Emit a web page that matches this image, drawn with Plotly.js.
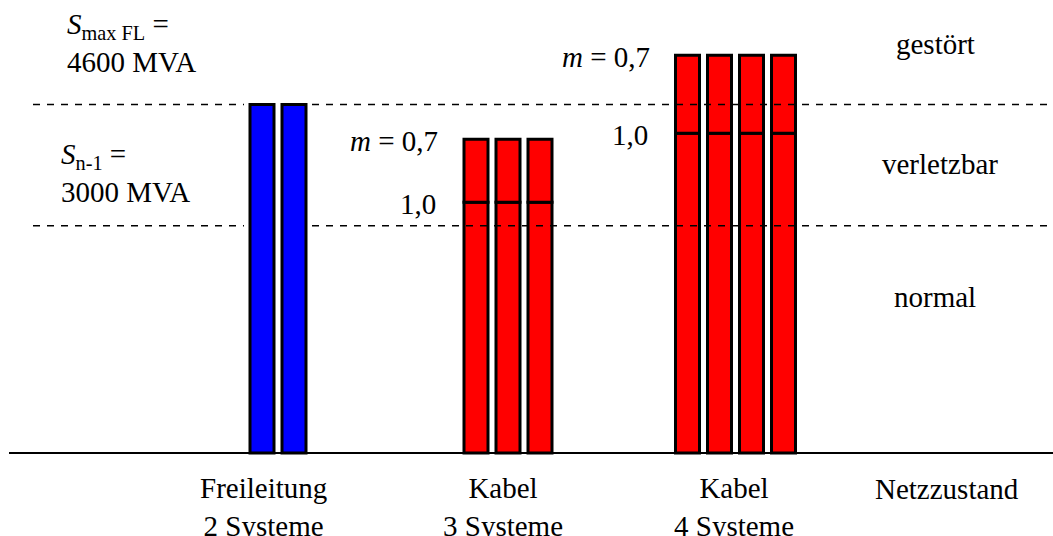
<!DOCTYPE html>
<html>
<head>
<meta charset="utf-8">
<script src="https://cdn.plot.ly/plotly-3.0.1.min.js"></script>
<style>html,body{margin:0;padding:0;background:#fff;}#chart{width:1053px;height:536px;}</style>
</head>
<body>
<div id="chart"></div>
<script>
// ---------- data ----------
const groupLabels = ['Freileitung<br>2 Systeme', 'Kabel<br>3 Systeme', 'Kabel<br>4 Systeme'];
const systemCounts = [2, 3, 4];
const loadM07 = [4600, 4140, 5250];   // top of bar (m = 0,7), MVA
const loadM10 = [null, 3310, 4220];   // m = 1,0 division, MVA
const barColors = ['#0000FF', '#FF0000', '#FF0000'];
const sN1 = 3000;       // S_n-1
const sMaxFL = 4600;    // S_max FL
const zoneLabels = ['gestört', 'verletzbar', 'normal'];
const stateTitle = 'Netzzustand';

// ---------- layout geometry ----------
const W = 1053, H = 536;
const baseY = 453, refY = 104.5;           // pixel rows of 0 and S_max FL
const k = sMaxFL / (baseY - refY);          // MVA per pixel
const yRange = [-(H - baseY) * k, baseY * k];
const groupCenters = [278, 508, 735.5];
const labelCenters = [263, 503, 734];
const pitch = 32, barW = 24;
const FONT = 'Liberation Serif';
const FS = 29;
const py = p => 1 - p / H;              // paper y from pixel row

// ---------- traces ----------
const traces = [];
groupLabels.forEach((g, gi) => {
  const n = systemCounts[gi];
  const xs = [];
  for (let j = 0; j < n; j++) xs.push(groupCenters[gi] + (j - (n - 1) / 2) * pitch);
  const line = {color: '#000', width: 3};
  if (loadM10[gi] === null) {
    traces.push({type: 'bar', x: xs, y: xs.map(() => loadM07[gi]), width: barW,
      marker: {color: barColors[gi], line: line}, hoverinfo: 'skip', showlegend: false});
  } else {
    traces.push({type: 'bar', x: xs, y: xs.map(() => loadM10[gi]), base: 0, width: barW,
      marker: {color: barColors[gi], line: line}, hoverinfo: 'skip', showlegend: false});
    traces.push({type: 'bar', x: xs, y: xs.map(() => loadM07[gi] - loadM10[gi]), base: loadM10[gi], width: barW,
      marker: {color: barColors[gi], line: line}, hoverinfo: 'skip', showlegend: false});
  }
});

// ---------- shapes ----------
const shapes = [];
const dashStyle = {color: '#000', width: 1.5, dash: '7px,7px'};
const blueL = groupCenters[0] - systemCounts[0] * pitch / 2 - 2;
const blueR = groupCenters[0] + systemCounts[0] * pitch / 2 + 2;
[sMaxFL, sN1].forEach(v => {
  shapes.push({type: 'line', xref: 'x', yref: 'y', x0: 33, x1: blueL, y0: v, y1: v, line: dashStyle, layer: 'above'});
  shapes.push({type: 'line', xref: 'x', yref: 'y', x0: blueR, x1: W, y0: v, y1: v, line: dashStyle, layer: 'above'});
});
shapes.push({type: 'line', xref: 'x', yref: 'y', x0: 9, x1: W, y0: 0, y1: 0, line: {color: '#000', width: 2}, layer: 'above'});

// ---------- annotations ----------
const mkFont = () => ({family: FONT, size: FS, color: '#000'});
const ann = [];
function txt(text, x, p, xanchor) {
  ann.push({text: text, xref: 'x', yref: 'paper', x: x, y: py(p), xanchor: xanchor || 'center',
    yanchor: 'middle', showarrow: false, font: mkFont(), align: xanchor === 'left' ? 'left' : 'center'});
}
txt('<i>S</i><sub>max FL</sub> =<br>' + sMaxFL + ' MVA', 65, 43, 'left');
txt('<i>S</i><sub>n-1</sub> =<br>' + sN1 + ' MVA', 59, 173, 'left');
groupLabels.forEach((g, gi) => {
  txt(g, labelCenters[gi], 507);
  if (loadM10[gi] !== null) {
    const left = groupCenters[gi] - systemCounts[gi] * pitch / 2;
    ann.push({text: '<i>m</i> = 0,7', xref: 'x', yref: 'y', x: left, y: loadM07[gi], xanchor: 'right', yanchor: 'middle',
      xshift: -20, yshift: -2, showarrow: false, font: mkFont()});
    ann.push({text: '1,0', xref: 'x', yref: 'y', x: left, y: loadM10[gi], xanchor: 'right', yanchor: 'middle',
      xshift: -22, yshift: -2, showarrow: false, font: mkFont()});
  }
});
txt(stateTitle, 947, 489);
txt(zoneLabels[0], 935, 44);
txt(zoneLabels[1], 940, 164);
txt(zoneLabels[2], 935, 297);

const layout = {
  width: W, height: H,
  margin: {l: 0, r: 0, t: 0, b: 0},
  paper_bgcolor: '#fff', plot_bgcolor: '#fff',
  barmode: 'overlay',
  showlegend: false,
  xaxis: {range: [0, W], visible: false, fixedrange: true},
  yaxis: {range: yRange, visible: false, fixedrange: true},
  shapes: shapes,
  annotations: ann,
  font: mkFont()
};
Plotly.newPlot('chart', traces, layout, {displayModeBar: false, staticPlot: true});
</script>
</body>
</html>
